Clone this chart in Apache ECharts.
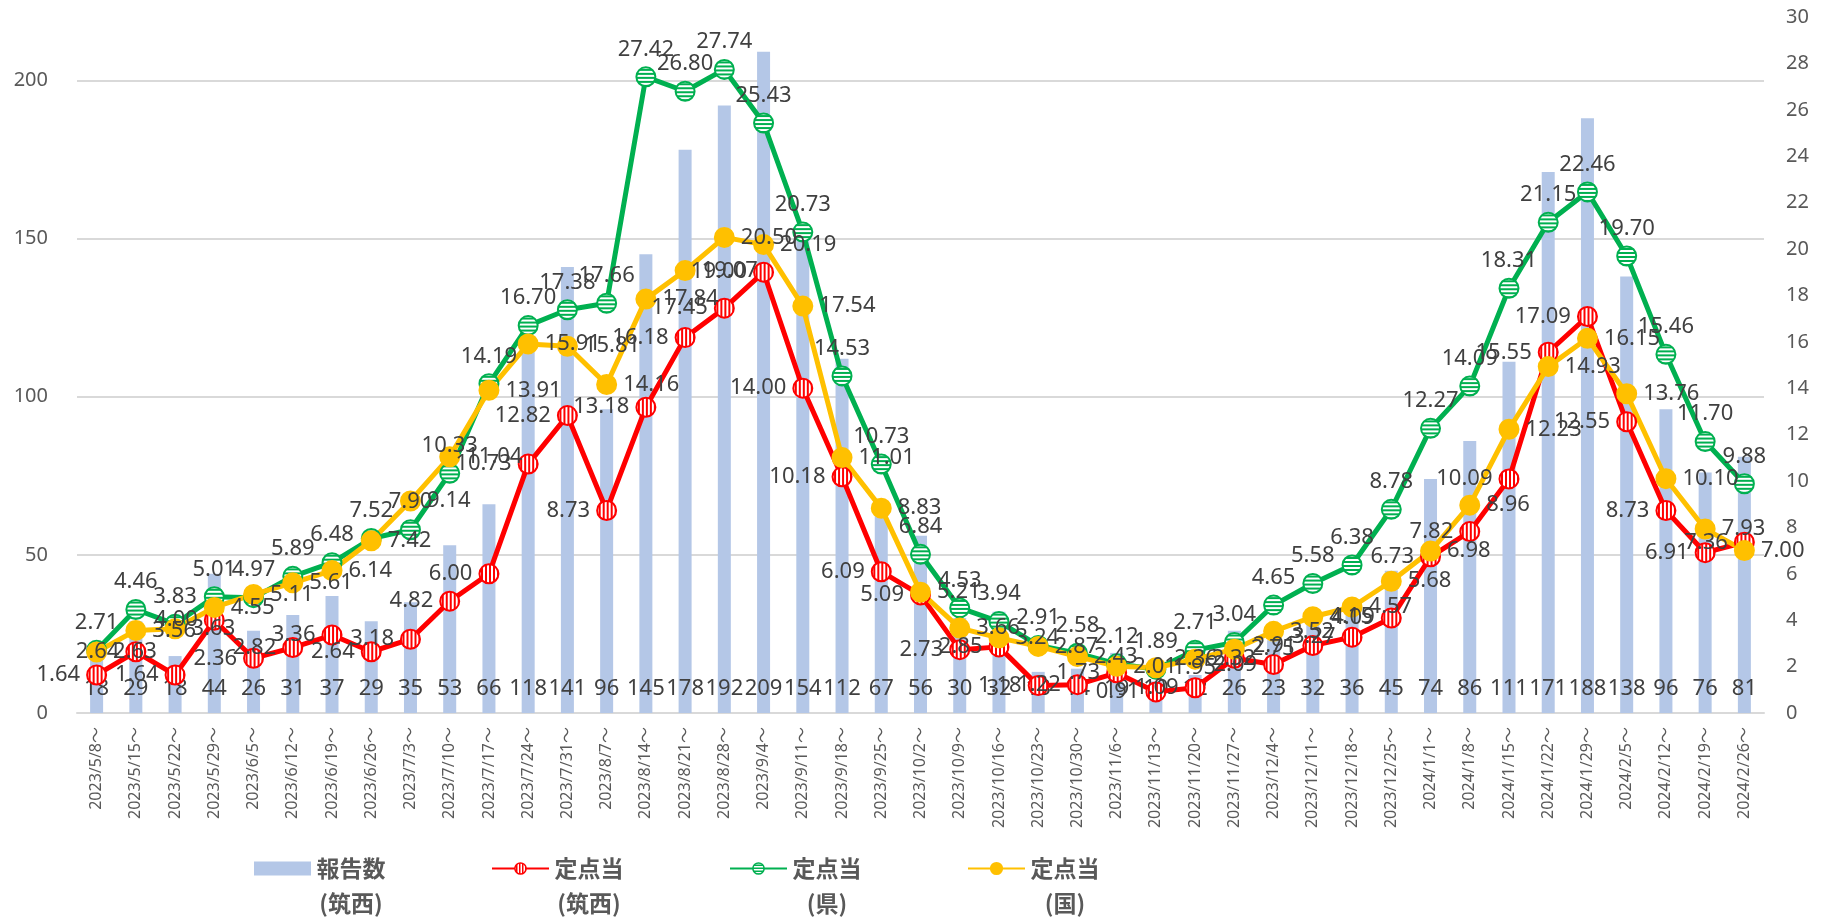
<!DOCTYPE html>
<html>
<head>
<meta charset="utf-8">
<script src="https://cdn.jsdelivr.net/npm/echarts@6/dist/echarts.min.js"></script>
<style>
html, body { margin: 0; padding: 0; background: #fff; }
#chart { width: 1827px; height: 918px; }
</style>
</head>
<body>
<div id="chart"></div>
<script>
var weeks = ['2023/5/8～', '2023/5/15～', '2023/5/22～', '2023/5/29～', '2023/6/5～', '2023/6/12～', '2023/6/19～', '2023/6/26～',
	'2023/7/3～', '2023/7/10～', '2023/7/17～', '2023/7/24～', '2023/7/31～', '2023/8/7～', '2023/8/14～', '2023/8/21～',
	'2023/8/28～', '2023/9/4～', '2023/9/11～', '2023/9/18～', '2023/9/25～', '2023/10/2～', '2023/10/9～', '2023/10/16～',
	'2023/10/23～', '2023/10/30～', '2023/11/6～', '2023/11/13～', '2023/11/20～', '2023/11/27～', '2023/12/4～', '2023/12/11～',
	'2023/12/18～', '2023/12/25～', '2024/1/1～', '2024/1/8～', '2024/1/15～', '2024/1/22～', '2024/1/29～', '2024/2/5～',
	'2024/2/12～', '2024/2/19～', '2024/2/26～'];

// 報告数（筑西）
var reports = [18, 29, 18, 44, 26, 31, 37, 29, 35, 53, 66, 118, 141, 96, 145, 178, 192, 209, 154, 112, 67, 56,
	30, 32, 13, 14, 19, 10, 12, 26, 23, 32, 36, 45, 74, 86, 111, 171, 188, 138, 96, 76, 81];

// 定点当（筑西）
var rateChikusei = [1.64, 2.64, 1.64, 4.00, 2.36, 2.82, 3.36, 2.64, 3.18, 4.82, 6.00, 10.73, 12.82, 8.73, 13.18, 16.18,
	17.45, 19.00, 14.00, 10.18, 6.09, 5.09, 2.73, 2.85, 1.18, 1.22, 1.73, 0.91, 1.09, 2.36, 2.09, 2.91, 3.27, 4.09,
	6.73, 7.82, 10.09, 15.55, 17.09, 12.55, 8.73, 6.91, 7.36];

// 定点当（県）
var ratePref = [2.71, 4.46, 3.83, 5.01, 4.97, 5.89, 6.48, 7.52, 7.90, 10.33, 14.19, 16.70, 17.38, 17.66, 27.42, 26.80,
	27.74, 25.43, 20.73, 14.53, 10.73, 6.84, 4.53, 3.94, 2.91, 2.58, 2.12, 1.89, 2.71, 3.04, 4.65, 5.58, 6.38, 8.78,
	12.27, 14.09, 18.31, 21.15, 22.46, 19.70, 15.46, 11.70, 9.88];

// 定点当（国）
var rateNation = [2.63, 3.56, 3.63, 4.55, 5.11, 5.61, 6.14, 7.42, 9.14, 11.04, 13.91, 15.91, 15.81, 14.16, 17.84, 19.07,
	20.50, 20.19, 17.54, 11.01, 8.83, 5.21, 3.66, 3.24, 2.87, 2.43, 2.01, 1.95, 2.32, 2.75, 3.52, 4.15, 4.57, 5.68,
	6.98, 8.96, 12.23, 14.93, 16.15, 13.76, 10.10, 7.93, 7.00];

var names = ['報告数\n(筑西)', '定点当\n(筑西)', '定点当\n(県)', '定点当\n(国)'];

var RED = '#FF0000', GREEN = '#00B050', YELLOW = '#FFC000', BAR = '#B4C7E7';
var SYM = 19;

function stripes(fg, bg, vertical, scale) {
	var c = document.createElement('canvas');
	c.width = 4;
	c.height = 4;
	var g = c.getContext('2d');
	g.fillStyle = bg;
	g.fillRect(0, 0, 4, 4);
	g.fillStyle = fg;
	if (vertical) g.fillRect(0, 0, 2, 4);
	else g.fillRect(0, 0, 4, 2);
	return { image: c, repeat: 'repeat', scaleX: scale, scaleY: scale };
}

var labelFont = {
	color: '#404040',
	fontSize: 22,
	fontFamily: 'Noto Sans'
};

function two(p) {
	return Number(p.value).toFixed(2);
}

function lineSeries(name, data, color, fill, pos) {
	return {
		name: name,
		type: 'line',
		yAxisIndex: 1,
		data: data,
		symbol: 'circle',
		symbolSize: SYM,
		lineStyle: { color: color, width: 5 },
		itemStyle: { color: fill, borderColor: color, borderWidth: 2 },
		label: Object.assign({ show: true, position: pos, distance: 6, formatter: two }, labelFont),
		z: 3
	};
}

var myChart = echarts.init(document.getElementById('chart'));

var option = {
	animation: false,
	backgroundColor: '#fff',
	grid: {
		left: 77,
		right: 63,
		top: 17,
		bottom: 205,
		outerBoundsMode: 'none'
	},
	legend: {
		left: 249,
		top: 852,
		itemGap: 105,
		itemWidth: 57,
		itemHeight: 14,
		selectedMode: false,
		formatter: function (name) {
			var p = name.split('\n');
			return '{t|' + p[0] + '}\n{t|' + p[1] + '}';
		},
		textStyle: {
			padding: [35, 0, 0, 0],
			rich: {
				t: {
					width: 70,
					align: 'center',
					fontSize: 23,
					fontWeight: 'bold',
					color: '#595959',
					fontFamily: 'Noto Sans CJK JP',
					lineHeight: 35
				}
			}
		},
		data: [
			{ name: names[0], icon: 'rect' },
			{ name: names[1], itemStyle: { color: stripes(RED, '#fff', true, 0.75), borderColor: RED, borderWidth: 1.5 } },
			{ name: names[2], itemStyle: { color: stripes(GREEN, '#fff', false, 0.75), borderColor: GREEN, borderWidth: 1.5 } },
			{ name: names[3] }
		]
	},
	xAxis: {
		type: 'category',
		data: weeks,
		axisTick: { show: false },
		axisLine: { lineStyle: { color: '#d9d9d9', width: 2 } },
		axisLabel: {
			rotate: 90,
			interval: 0,
			margin: 14,
			fontSize: 16,
			color: '#595959',
			fontFamily: "'Noto Sans', 'Noto Sans CJK JP'"
		}
	},
	yAxis: [{
		type: 'value',
		min: 0,
		max: 220,
		interval: 50,
		position: 'left',
		axisLine: { show: false },
		axisTick: { show: false },
		axisLabel: { fontSize: 20, color: '#595959', margin: 29, showMaxLabel: false, fontFamily: 'Noto Sans' },
		splitLine: { showMaxLine: false, lineStyle: { color: '#d9d9d9', width: 2 } }
	}, {
		type: 'value',
		min: 0,
		max: 30,
		interval: 2,
		position: 'right',
		axisLine: { show: false },
		axisTick: { show: false },
		axisLabel: { fontSize: 20, color: '#595959', margin: 22, fontFamily: 'Noto Sans' },
		splitLine: { show: false }
	}],
	series: [{
		name: names[0],
		type: 'bar',
		yAxisIndex: 0,
		data: reports,
		barWidth: 13,
		itemStyle: { color: BAR },
		label: Object.assign({ show: true, position: 'insideBottom', distance: 13 }, labelFont),
		z: 2
	},
	lineSeries(names[1], rateChikusei, RED, stripes(RED, '#fff', true, 2 / SYM), 'left'),
	lineSeries(names[2], ratePref, GREEN, stripes(GREEN, '#fff', false, 2 / SYM), 'top'),
	lineSeries(names[3], rateNation, YELLOW, YELLOW, 'right')
	]
};

myChart.setOption(option);
</script>
</body>
</html>
